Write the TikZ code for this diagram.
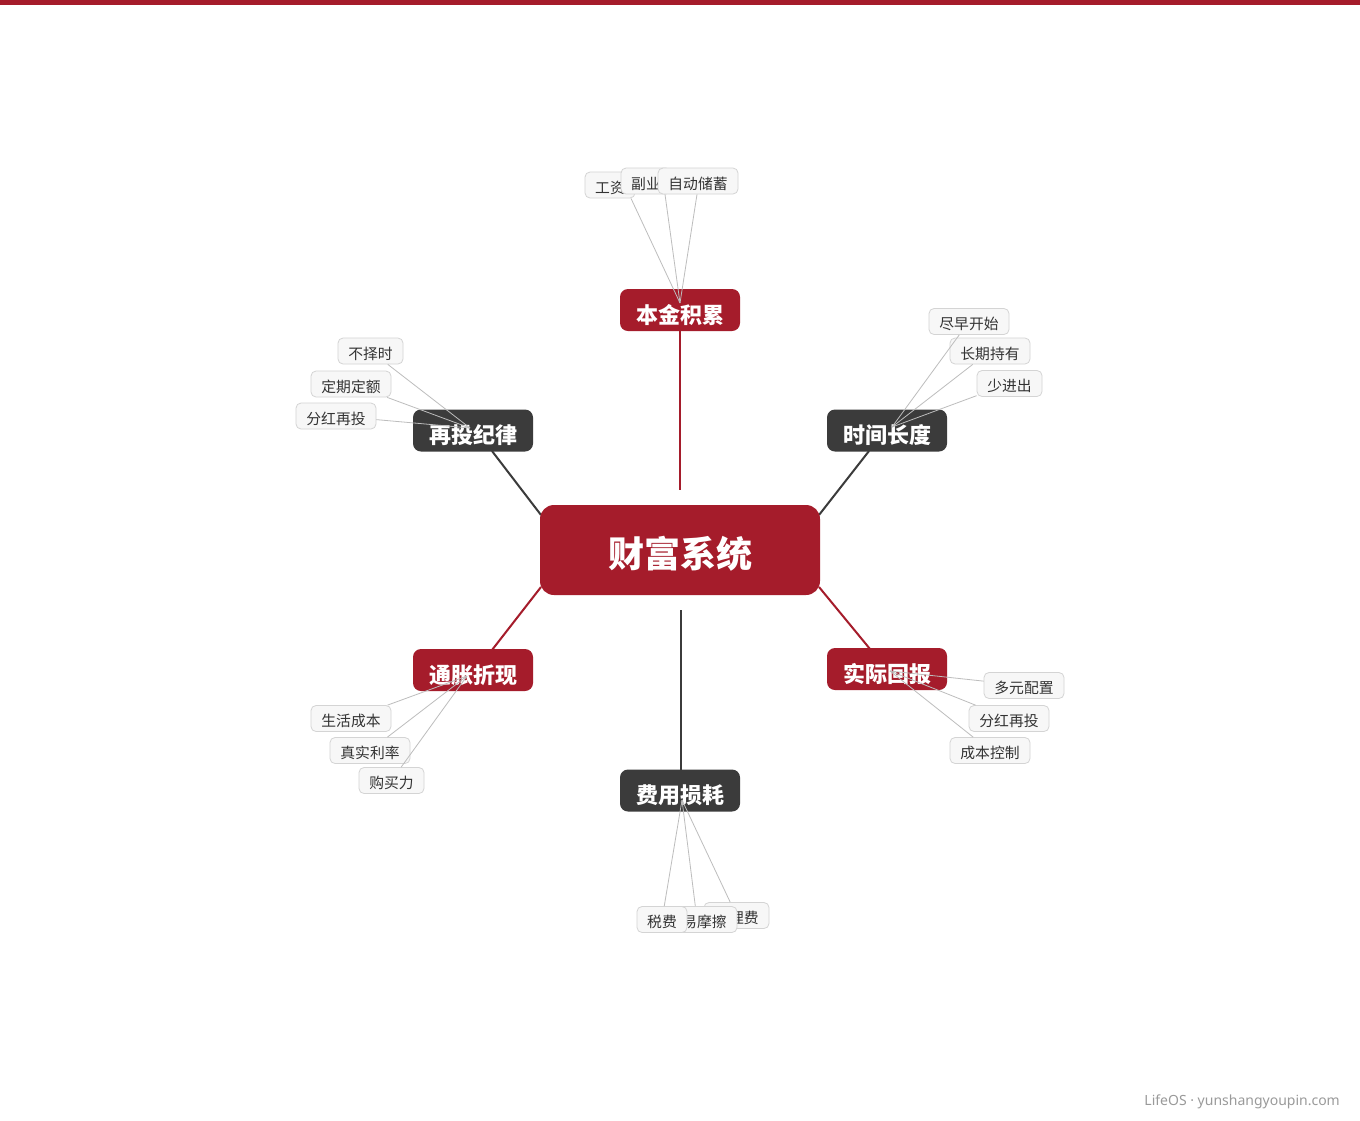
\documentclass[tikz,border=0pt]{standalone}
\usepackage{fontspec}
\setmainfont{Noto Sans CJK SC}
\newfontfamily\footfont{Noto Sans}
\usetikzlibrary{calc}
\definecolor{brand}{HTML}{A51C2B}
\definecolor{ink}{HTML}{3B3B3B}
\definecolor{leafline}{HTML}{BDBDBD}
\definecolor{leafbd}{HTML}{D4D4D4}
\definecolor{leaffill}{HTML}{F7F7F7}
\definecolor{leaftext}{HTML}{333333}
\definecolor{foot}{HTML}{9A9A9A}
\begin{document}
\begin{tikzpicture}[x=1pt,y=-1pt,
  hubnode/.style={fill=brand, rounded corners=14pt, minimum width=280pt, minimum height=90pt, inner sep=0pt, text=white, text height=35.4pt, text depth=0pt, font=\fontsize{36}{36}\selectfont\bfseries},
  redbranch/.style={fill=brand, rounded corners=8pt, minimum width=120pt, minimum height=42pt, inner sep=0pt, text=white, text height=26.8pt, text depth=0pt, font=\fontsize{22}{22}\selectfont\bfseries},
  darkbranch/.style={redbranch, fill=ink},
  leaf/.style={fill=leaffill, draw=leafbd, line width=0.8pt, rounded corners=5pt, minimum height=26pt, inner sep=0pt, text=leaftext, text height=16.6pt, text depth=0pt, font=\fontsize{14.8}{15}\selectfont},
  twig/.style={draw=leafline, line width=0.8pt},
  redlink/.style={draw=brand, line width=2pt},
  darklink/.style={draw=ink, line width=2pt}]
\fill[white] (0,0) rectangle (1360,1120);
\fill[brand] (0,0) rectangle (1360,5);
% anchor points of the main nodes (for the links drawn behind them)
\coordinate (cNW) at (541,515);
\coordinate (cNE) at (819,515);
\coordinate (cSW) at (541,587);
\coordinate (cSE) at (819,587);
\coordinate (cN) at (680,490);
\coordinate (cS) at (681,610);
\coordinate (bjS) at (680,330);
\coordinate (ztS) at (492,451);
\coordinate (sjS) at (869,451);
\coordinate (tzN) at (492,650);
\coordinate (shN) at (870,649);
\coordinate (fyN) at (681,770);
\draw[redlink] (bjS) -- (cN);
\draw[darklink] (cS) -- (fyN);
\draw[darklink] (cNW) -- (ztS);
\draw[darklink] (cNE) -- (sjS);
\draw[redlink] (cSW) -- (tzN);
\draw[redlink] (cSE) -- (shN);
% main nodes
\node[hubnode] (c) at (680,550) {财富系统};
\node[redbranch] (bj) at (680,310) {本金积累};
\node[darkbranch] (zt) at (473,430.5) {再投纪律};
\node[darkbranch] (sj) at (887,430.5) {时间长度};
\node[redbranch] (tz) at (473,670) {通胀折现};
\node[redbranch] (sh) at (887,669) {实际回报};
\node[darkbranch] (fy) at (680,790.5) {费用损耗};
% hubs of the leaf twigs
\coordinate (hbj) at (680,303);
\coordinate (hzt) at (470,428);
\coordinate (hsj) at (892,427);
\coordinate (htz) at (467,676);
\coordinate (hsh) at (890,671);
\coordinate (hfy) at (682,800);
% leaves
\node[leaf, minimum width=50pt] (gz) at (610,185) {工资};
\node[leaf, minimum width=50pt] (fyy) at (646,181) {副业};
\node[leaf, minimum width=80pt] (zd) at (698,181) {自动储蓄};
\node[leaf, minimum width=65pt] (bzs) at (370.5,351) {不择时};
\node[leaf, minimum width=80pt] (dq) at (351,384) {定期定额};
\node[leaf, minimum width=80pt] (fh1) at (336,416) {分红再投};
\node[leaf, minimum width=80pt] (jz) at (969,321.5) {尽早开始};
\node[leaf, minimum width=80pt] (cq) at (990,351) {长期持有};
\node[leaf, minimum width=65pt] (sjc) at (1009.5,383.5) {少进出};
\node[leaf, minimum width=80pt] (shcb) at (351,718.5) {生活成本};
\node[leaf, minimum width=80pt] (zsll) at (370,750.5) {真实利率};
\node[leaf, minimum width=65pt] (gml) at (391.5,780.5) {购买力};
\node[leaf, minimum width=80pt] (dy) at (1024,685.5) {多元配置};
\node[leaf, minimum width=80pt] (fh2) at (1009,718.5) {分红再投};
\node[leaf, minimum width=80pt] (cb) at (990,750.5) {成本控制};
\node[leaf, minimum width=65pt] (glf) at (736.5,915.5) {管理费};
\node[leaf, minimum width=80pt] (jy) at (697,919.5) {交易摩擦};
\node[leaf, minimum width=50pt] (sf) at (662,919.5) {税费};
% twigs
\draw[twig] (hbj) -- ([xshift=21pt]gz.south);
\draw[twig] (hbj) -- ([xshift=19pt]fyy.south);
\draw[twig] (hbj) -- ([xshift=-1pt]zd.south);
\draw[twig] (hzt) -- (bzs);
\draw[twig] (hzt) -- (dq);
\draw[twig] (hzt) -- (fh1);
\draw[twig] (hsj) -- (jz);
\draw[twig] (hsj) -- (cq);
\draw[twig] (hsj) -- (sjc);
\draw[twig] (htz) -- (shcb);
\draw[twig] (htz) -- (zsll);
\draw[twig] (htz) -- (gml);
\draw[twig] (hsh) -- (dy);
\draw[twig] (hsh) -- (fh2);
\draw[twig] (hsh) -- (cb);
\draw[twig] (hfy) -- (glf);
\draw[twig] (hfy) -- (jy);
\draw[twig] (hfy) -- (sf);
% footer
\node[anchor=east, inner sep=0pt, text=foot, font=\fontsize{14}{14}\selectfont\footfont] (ft) at (1340,1102) {LifeOS · yunshangyoupin.com};
\end{tikzpicture}
\end{document}
